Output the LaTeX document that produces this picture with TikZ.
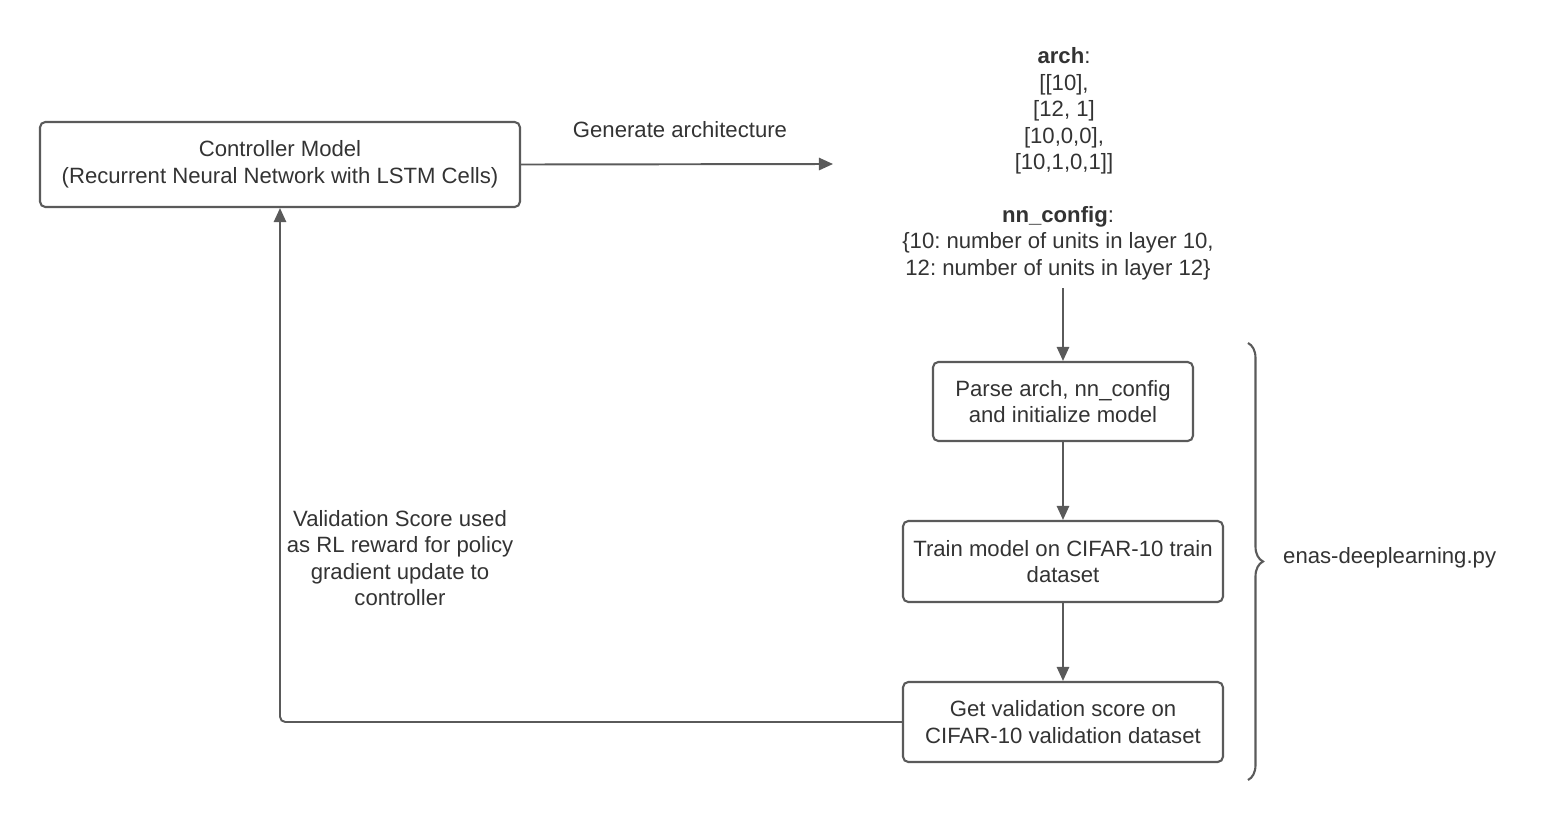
\documentclass[tikz,border=0pt]{standalone}
\usepackage{fontspec}
\setmainfont{Liberation Sans}
\usepackage{xcolor}
\usepackage{tikz}
\usetikzlibrary{positioning,arrows.meta,decorations.pathreplacing}
\definecolor{linegray}{HTML}{5A5A5A}
\definecolor{textgray}{HTML}{333333}
\frenchspacing

\begin{document}
\begin{tikzpicture}[x=0.02cm, y=-0.02cm,
    every node/.style={text=textgray, font=\fontsize{12.6}{15.1}\selectfont, align=center},
    procbox/.style={draw=linegray, line width=1.2pt, rounded corners=3pt, inner sep=2pt},
    flow/.style={draw=linegray, line width=1.1pt, -{Triangle[length=8pt, width=7pt]}}]
    \useasboundingbox (0,0) rectangle (1560,822);

    %% Controller
    \node[procbox, minimum width=9.6cm, minimum height=1.7cm] (ctrl) at (280,164.5)
        {Controller Model\\(Recurrent Neural Network with LSTM Cells)};
    \coordinate (gen) at (833,164);
    \node (genlbl) at (680,130) {Generate architecture};

    %% Sampled architecture
    \node (arch) at (1064,111) {\textbf{arch}:\\{[}[10],\\{[}12, 1]\\{[}10,0,0],\\{[}10,1,0,1]]};
    \node[inner sep=4pt] (cfg) at (1058,243)
        {\textbf{nn\_config}:\\\{10: number of units in layer 10,\\12: number of units in layer 12\}};

    %% enas-deeplearning.py steps
    \node[procbox, minimum width=5.2cm, minimum height=1.58cm] (parse) at (1063,401.5)
        {Parse arch, nn\_config\\and initialize model};
    \node[procbox, minimum width=6.4cm, minimum height=1.62cm] (train) at (1063,561.5)
        {Train model on CIFAR-10 train\\dataset};
    \node[procbox, minimum width=6.4cm, minimum height=1.6cm] (valid) at (1063,722)
        {Get validation score on\\CIFAR-10 validation dataset};

    \node (reward) at (400,558)
        {Validation Score used\\as RL reward for policy\\gradient update to\\controller};

    \draw[flow] (ctrl.east) -- (gen);
    \draw[flow] (1063,288) -- (parse.north);
    \draw[flow] (parse) -- (train);
    \draw[flow] (train) -- (valid);
    \draw[flow, rounded corners=3pt] (valid.west) -| (ctrl.south);

    %% brace
    \draw[linegray, line width=1.2pt, decorate, decoration={brace, amplitude=0.3cm}]
        (1248,343) -- (1248,780);
    \node[anchor=west] (script) at (1277,558) {enas-deeplearning.py};
\end{tikzpicture}
\end{document}
